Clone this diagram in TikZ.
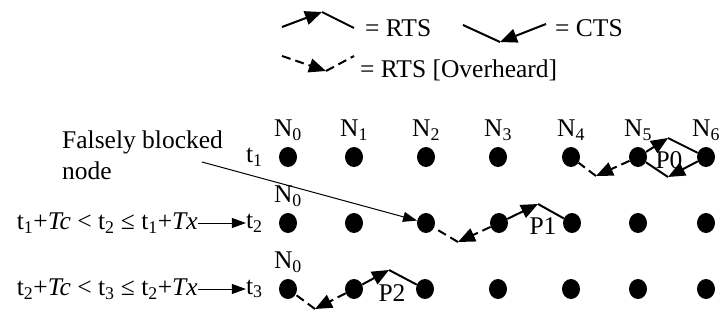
\documentclass[tikz,border=0pt]{standalone}
\usepackage{fontspec}
\setmainfont{Liberation Serif}
\usetikzlibrary{positioning, arrows.meta, shapes.geometric, calc}

\begin{document}
\begin{tikzpicture}[
    x=1pt, y=-1pt,
    font=\fontsize{25.5}{31}\selectfont,
    dot/.style={ellipse, fill=black, inner sep=0pt, minimum width=18pt, minimum height=20pt},
    lbl/.style={inner sep=0pt},
    wire/.style={line width=2pt},
    rts/.style={wire, -{Triangle[length=17pt,width=14pt]}},
    ohwire/.style={wire, dash pattern=on 9pt off 5pt},
    overheard/.style={ohwire, -{Triangle[length=17pt,width=14pt]}},
    pointer/.style={line width=1pt, -{Triangle[length=14pt,width=10pt]}},
]
\useasboundingbox (0,0) rectangle (725,321);

% Legend
\coordinate (rtsA) at (282,27);
\coordinate (rtsB) at (322,12);
\coordinate (rtsC) at (354,28);
\draw[rts] (rtsA) -- (rtsB);
\draw[wire] (rtsB) -- (rtsC);
\node[lbl, anchor=west] (rtsText) at (365,28) {= RTS};
\coordinate (ctsA) at (546,24);
\coordinate (ctsB) at (500,42);
\coordinate (ctsC) at (463,25);
\draw[rts] (ctsA) -- (ctsB);
\draw[wire] (ctsB) -- (ctsC);
\node[lbl, anchor=west] (ctsText) at (555,28) {= CTS};
\coordinate (ohA) at (282,56);
\coordinate (ohB) at (326,71);
\coordinate (ohC) at (354,56);
\draw[overheard] (ohA) -- (ohB);
\draw[ohwire] (ohB) -- (ohC);
\node[lbl, anchor=west] (ohText) at (360,70) {= RTS [Overheard]};

% Row t1
\node[dot] (r1c0) at (288,157) {};
\node[dot] (r1c1) at (354,157) {};
\node[dot] (r1c2) at (426,157) {};
\node[dot] (r1c3) at (498,157) {};
\node[dot] (r1c4) at (571,157) {};
\node[dot] (r1c5) at (638,157) {};
\node[dot] (r1c6) at (706,157) {};

% Row t2
\node[dot] (r2c0) at (288,223) {};
\node[dot] (r2c1) at (354,223) {};
\node[dot] (r2c2) at (426,223) {};
\node[dot] (r2c3) at (499,223) {};
\node[dot] (r2c4) at (572,223) {};
\node[dot] (r2c5) at (638,223) {};
\node[dot] (r2c6) at (706,223) {};

% Row t3
\node[dot] (r3c0) at (288,289) {};
\node[dot] (r3c1) at (354,289) {};
\node[dot] (r3c2) at (425,289) {};
\node[dot] (r3c3) at (498,289) {};
\node[dot] (r3c4) at (571,289) {};
\node[dot] (r3c5) at (638,289) {};
\node[dot] (r3c6) at (706,289) {};

% Node names
\node[lbl, above=6pt of r1c0] (n0) {N\textsubscript{0}};
\node[lbl, above=6pt of r1c1] (n1) {N\textsubscript{1}};
\node[lbl, above=6pt of r1c2] (n2) {N\textsubscript{2}};
\node[lbl, above=6pt of r1c3] (n3) {N\textsubscript{3}};
\node[lbl, above=6pt of r1c4] (n4) {N\textsubscript{4}};
\node[lbl, above=6pt of r1c5] (n5) {N\textsubscript{5}};
\node[lbl, above=6pt of r1c6] (n6) {N\textsubscript{6}};
\node[lbl, above=6pt of r2c0] (n0b) {N\textsubscript{0}};
\node[lbl, above=6pt of r3c0] (n0c) {N\textsubscript{0}};

% Time labels
\node[lbl, left=16pt of r1c0] (t1) {t\textsubscript{1}};
\node[lbl, left=16pt of r2c0] (t2) {t\textsubscript{2}};
\node[lbl, left=16pt of r3c0] (t3) {t\textsubscript{3}};
\node[lbl, left=48pt of t2] (f2) {t\textsubscript{1}+\textit{Tc} < t\textsubscript{2} ≤ t\textsubscript{1}+\textit{Tx}};
\node[lbl, left=48pt of t3] (f3) {t\textsubscript{2}+\textit{Tc} < t\textsubscript{3} ≤ t\textsubscript{2}+\textit{Tx}};
\draw[pointer] (f2) -- (t2);
\draw[pointer] (f3) -- (t3);

% Falsely blocked node
\node[lbl, anchor=north west, align=left] (fb) at (62,131) {Falsely blocked\\node};
\coordinate (fbTail) at (202,162);
\draw[pointer] (fbTail) -- (r2c2);

% Pair P0
\coordinate (p0top) at (668,138);
\coordinate (p0bot) at (668,177);
\draw[rts] (r1c5) -- (p0top);
\draw[wire] (p0top) -- (r1c6);
\draw[rts] (r1c6) -- (p0bot);
\draw[wire] (p0bot) -- (r1c5);
\node[lbl] (p0) at (669,160) {P0};
\coordinate (oh1) at (596,176);
\draw[overheard] (r1c5) -- (oh1);
\draw[ohwire] (oh1) -- (r1c4);

% Pair P1
\coordinate (p1top) at (538,204);
\draw[rts] (r2c3) -- (p1top);
\draw[wire] (p1top) -- (r2c4);
\node[lbl] (p1) at (543,226) {P1};
\coordinate (oh2) at (458,242);
\draw[overheard] (r2c3) -- (oh2);
\draw[ohwire] (oh2) -- (r2c2);

% Pair P2
\coordinate (p2top) at (389,270);
\draw[rts] (r3c1) -- (p2top);
\draw[wire] (p2top) -- (r3c2);
\node[lbl] (p2) at (392,293) {P2};
\coordinate (oh3) at (315,309);
\draw[overheard] (r3c1) -- (oh3);
\draw[ohwire] (oh3) -- (r3c0);

\end{tikzpicture}
\end{document}
